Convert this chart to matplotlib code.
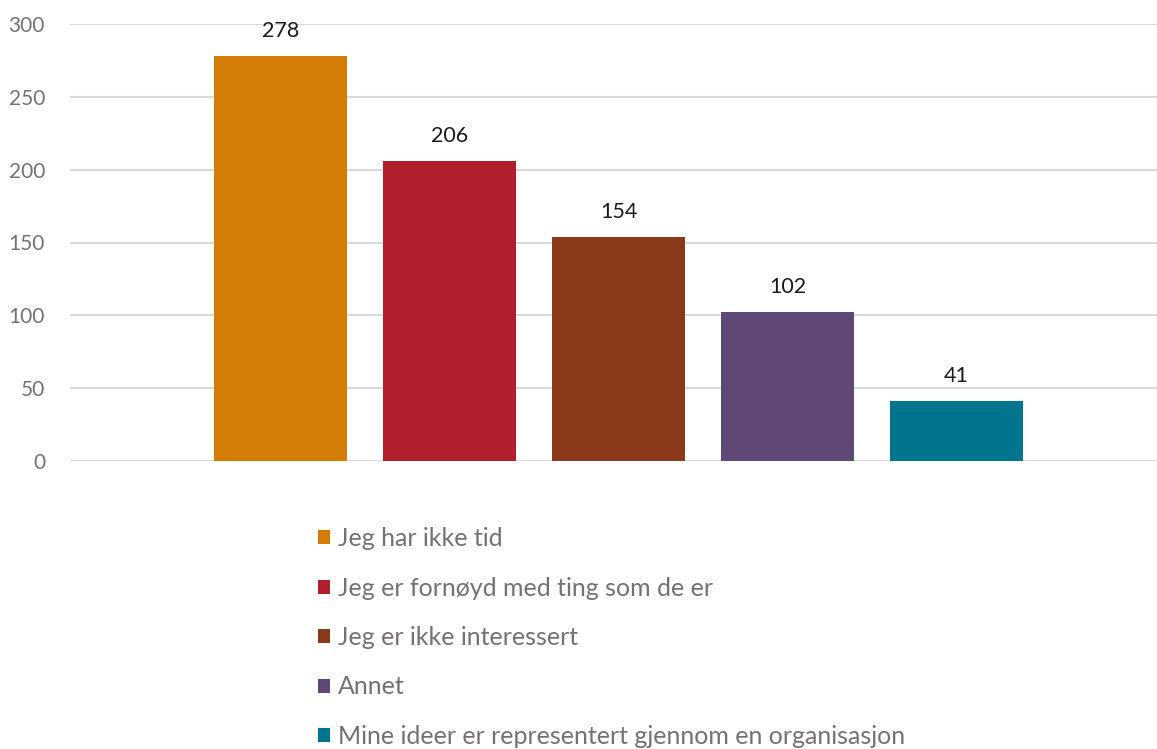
import matplotlib
matplotlib.use("Agg")
import matplotlib.pyplot as plt

plt.rcParams['font.family'] = ['Lato', 'DejaVu Sans']

categories = [
    "Jeg har ikke tid",
    "Jeg er fornøyd med ting som de er",
    "Jeg er ikke interessert",
    "Annet",
    "Mine ideer er representert gjennom en organisasjon",
]
values = [278, 206, 154, 102, 41]
colors = ["#D37D07", "#B01F2B", "#8B391B", "#604876", "#00758D"]
yticks = [0, 50, 100, 150, 200, 250, 300]

W, H = 1157, 749
fig = plt.figure(figsize=(W / 100, H / 100), dpi=100)
ax = fig.add_axes([70 / W, 1 - 461 / H, 1 - 70 / W, (461 - 24) / H])

handles = []
for i, (cat, v, c) in enumerate(zip(categories, values, colors)):
    b = ax.bar(i, v, width=0.787, color=c, label=cat, zorder=3)
    handles.append(b)
    ax.annotate(str(v), (i, v), xytext=(0, 18), textcoords="offset points",
                ha="center", va="center", fontsize=15.5, color="#1a1a1a")

ax.set_xlim(-1.246, 5.186)
ax.set_ylim(0, 300)
ax.set_yticks(yticks)
ax.set_xticks([])
ax.yaxis.grid(True, color="#d9d9d9", linewidth=1.5, zorder=0)
for s in ax.spines.values():
    s.set_visible(False)
ax.tick_params(axis="y", length=0, pad=18, labelsize=15, labelcolor="#767171")

leg = fig.legend(handles=handles, labels=categories, loc="upper left",
                 bbox_to_anchor=(318 / W, 1 - 527 / H), frameon=False,
                 fontsize=18, labelcolor="#767171", handlelength=0.48,
                 handleheight=0.48, handletextpad=0.32, labelspacing=1.06,
                 borderpad=0, borderaxespad=0)

fig.savefig("out.png", dpi=100)
